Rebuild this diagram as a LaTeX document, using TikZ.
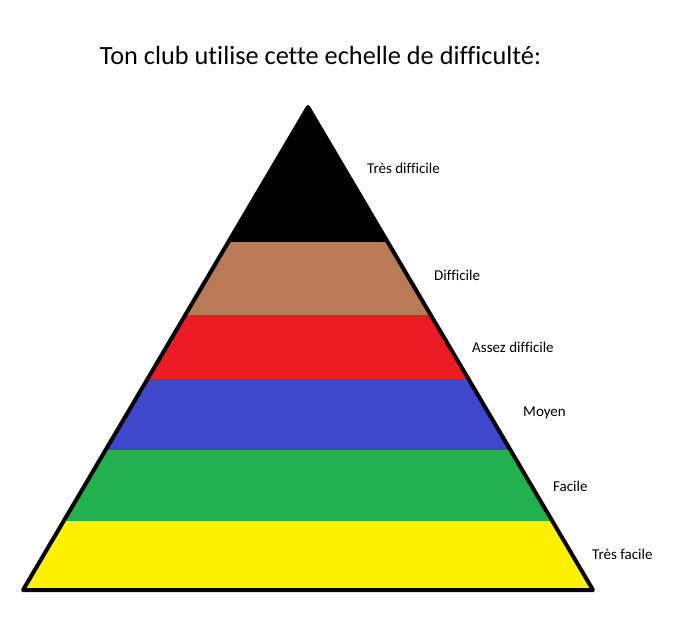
\documentclass[tikz,border=0pt]{standalone}
\usepackage{fontspec}
\setmainfont[Ligatures={NoCommon}]{Carlito}
\definecolor{pblack}{HTML}{000000}
\definecolor{pbrown}{HTML}{B97A57}
\definecolor{pred}{HTML}{ED1C24}
\definecolor{pblue}{HTML}{3F48CC}
\definecolor{pgreen}{HTML}{22B14C}
\definecolor{pyellow}{HTML}{FFF200}
\tikzset{
  lbl/.style={anchor=west,inner sep=0pt,font=\fontsize{15}{18}\selectfont,text=black},
  ttl/.style={anchor=center,inner sep=0pt,font=\fontsize{26.3}{30}\selectfont,text=black},
  outline/.style={draw=black,line width=4pt,line join=round,line cap=round}
}
\begin{document}
\begin{tikzpicture}[x=1pt,y=-1pt]
\useasboundingbox (0,0) rectangle (684,622);
\fill[white] (0,0) rectangle (684,622);
\coordinate (apex) at (308,107);
\coordinate (bl) at (23,590);
\coordinate (br) at (593,590);
\begin{scope}
  \clip (apex) -- (bl) -- (br) -- cycle;
  \fill[pblack]  (0,90)  rectangle (684,242);
  \fill[pbrown]  (0,242) rectangle (684,315);
  \fill[pred]    (0,315) rectangle (684,379);
  \fill[pblue]   (0,379) rectangle (684,450);
  \fill[pgreen]  (0,450) rectangle (684,521);
  \fill[pyellow] (0,521) rectangle (684,600);
\end{scope}
\draw[outline] (apex) -- (bl) -- (br) -- cycle;
\node[ttl] (title) at (320.5,55) {Ton club utilise cette echelle de difficulté:};
\node[lbl] (l1) at (367,168) {Très difficile};
\node[lbl] (l2) at (434,275) {Difficile};
\node[lbl] (l3) at (472,347) {Assez difficile};
\node[lbl] (l4) at (523,413) {Moyen};
\node[lbl] (l5) at (553,486) {Facile};
\node[lbl] (l6) at (592,554) {Très facile};
\end{tikzpicture}
\end{document}
